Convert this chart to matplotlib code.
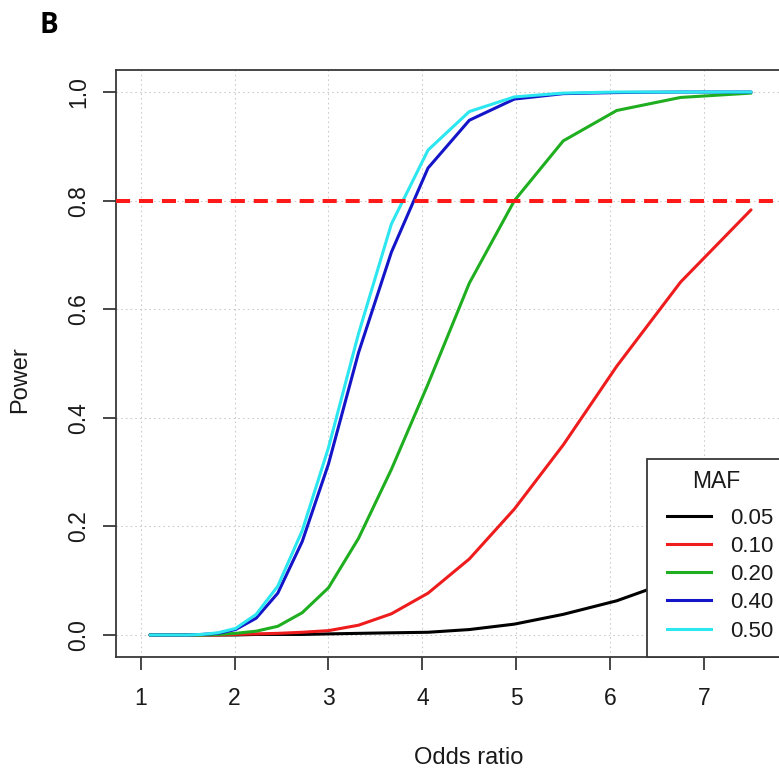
import numpy as np
import matplotlib
matplotlib.use("Agg")
import matplotlib.pyplot as plt
from matplotlib.patches import Rectangle
from matplotlib.lines import Line2D

plt.rcParams['font.family'] = ['Liberation Sans', 'DejaVu Sans']

# Power curves by odds ratio for several minor allele frequencies
odds_ratio = [1.10, 1.22, 1.35, 1.49, 1.65, 1.82, 2.01, 2.23, 2.46, 2.72,
              3.00, 3.32, 3.67, 4.06, 4.50, 4.98, 5.50, 6.07, 6.75, 7.50]

power_005 = [0, 0, 0, 0, 0, 0, 0, 0.001, 0.001, 0.001,
             0.002, 0.003, 0.004, 0.005, 0.010, 0.020, 0.038, 0.063, 0.105, 0.165]
power_010 = [0, 0, 0, 0, 0, 0, 0.001, 0.002, 0.003, 0.005,
             0.008, 0.018, 0.039, 0.077, 0.140, 0.232, 0.350, 0.495, 0.650, 0.783]
power_020 = [0, 0, 0, 0, 0, 0.001, 0.003, 0.007, 0.016, 0.041,
             0.087, 0.178, 0.305, 0.462, 0.648, 0.800, 0.910, 0.966, 0.990, 0.998]
power_040 = [0, 0, 0, 0, 0.001, 0.003, 0.010, 0.031, 0.077, 0.172,
             0.315, 0.520, 0.705, 0.860, 0.948, 0.987, 0.997, 0.999, 1.0, 1.0]
power_050 = [0, 0, 0, 0, 0.001, 0.004, 0.012, 0.038, 0.090, 0.192,
             0.345, 0.555, 0.757, 0.893, 0.964, 0.991, 0.998, 1.0, 1.0, 1.0]

maf_labels = ["0.05", "0.10", "0.20", "0.40", "0.50"]
series = [power_005, power_010, power_020, power_040, power_050]
colors = ["#000000", "#ee1c1c", "#1fae1f", "#1414c8", "#2ce6f0"]

target_power = 0.8
x_ticks = [1, 2, 3, 4, 5, 6, 7]
y_ticks = [0.0, 0.2, 0.4, 0.6, 0.8, 1.0]
y_tick_labels = ["0.0", "0.2", "0.4", "0.6", "0.8", "1.0"]

W, H = 779, 769
fig = plt.figure(figsize=(W / 100, H / 100), dpi=100)
fig.patch.set_facecolor("white")

# plot region in pixels (extends past the right edge)
L, R_, T, B_ = 116, 822, 70.3, 656.7
ax = fig.add_axes([L / W, 1 - B_ / H, (R_ - L) / W, (B_ - T) / H])
ax.set_xlim(0.737, 8.256)
ax.set_ylim(-0.04, 1.04)

frame_col = "#383838"
for s in ax.spines.values():
    s.set_color(frame_col)
    s.set_linewidth(1.3)

ax.set_xticks(x_ticks)
ax.set_xticklabels([str(t) for t in x_ticks])
ax.set_yticks(y_ticks)
ax.set_yticklabels(y_tick_labels, rotation=90, va="center")
ax.tick_params(axis="both", direction="out", length=9.4, width=1.3,
               color=frame_col, labelsize=16.5, labelcolor="#1a1a1a")
ax.tick_params(axis="x", pad=12.5)
ax.tick_params(axis="y", pad=9)

ax.grid(True, color="#c9c9c9", linestyle=(0, (1.5, 3)), linewidth=0.75)
ax.set_axisbelow(True)

for vals, col in zip(series, colors):
    ax.plot(odds_ratio, vals, color=col, linewidth=2.2,
            solid_joinstyle="round", solid_capstyle="round", zorder=3)

ax.axhline(target_power, color="#ff1a1a", linewidth=2.9,
           linestyle=(0, (3.5, 2.2)), zorder=4)

# legend box drawn in pixel positions converted to axes fractions
def ax_frac(px, py):
    return (px - L) / (R_ - L), (B_ - py) / (B_ - T)

x0, y1 = ax_frac(647, 459)
ax.add_patch(Rectangle((x0, 0), 1 - x0, y1, transform=ax.transAxes,
                       facecolor="white", edgecolor=frame_col, linewidth=1.3,
                       zorder=6, clip_on=False))
tx, ty = ax_frac(716.3, 488.3)
ax.text(tx, ty, "MAF", transform=ax.transAxes, ha="center", va="baseline",
        fontsize=16.5, color="#1a1a1a", zorder=7)
row_base = [524, 552, 580, 608.3, 636.7]
for lab, col, yb in zip(maf_labels, colors, row_base):
    hx0, hy = ax_frac(667.3, yb - 8)
    hx1, _ = ax_frac(710.7, yb - 8)
    ax.add_line(Line2D([hx0, hx1], [hy, hy], transform=ax.transAxes,
                       color=col, linewidth=2.2, zorder=7, clip_on=False))
    lx, ly = ax_frac(730.5, yb)
    ax.text(lx, ly, lab, transform=ax.transAxes, ha="left", va="baseline",
            fontsize=16, color="#1a1a1a", zorder=7)

fig.text(469 / W, 1 - 763.5 / H, "Odds ratio", ha="center", va="baseline",
         fontsize=17, color="#1a1a1a")
fig.text(26.5 / W, 1 - 380 / H, "Power", rotation=90, rotation_mode="anchor",
         ha="center", va="baseline", fontsize=17, color="#1a1a1a")
fig.text(39.5 / W, 1 - 33.3 / H, "B", ha="left", va="baseline",
         fontsize=20, fontweight="bold", family="Open Sans", color="black")

fig.savefig("out.png", dpi=100)
